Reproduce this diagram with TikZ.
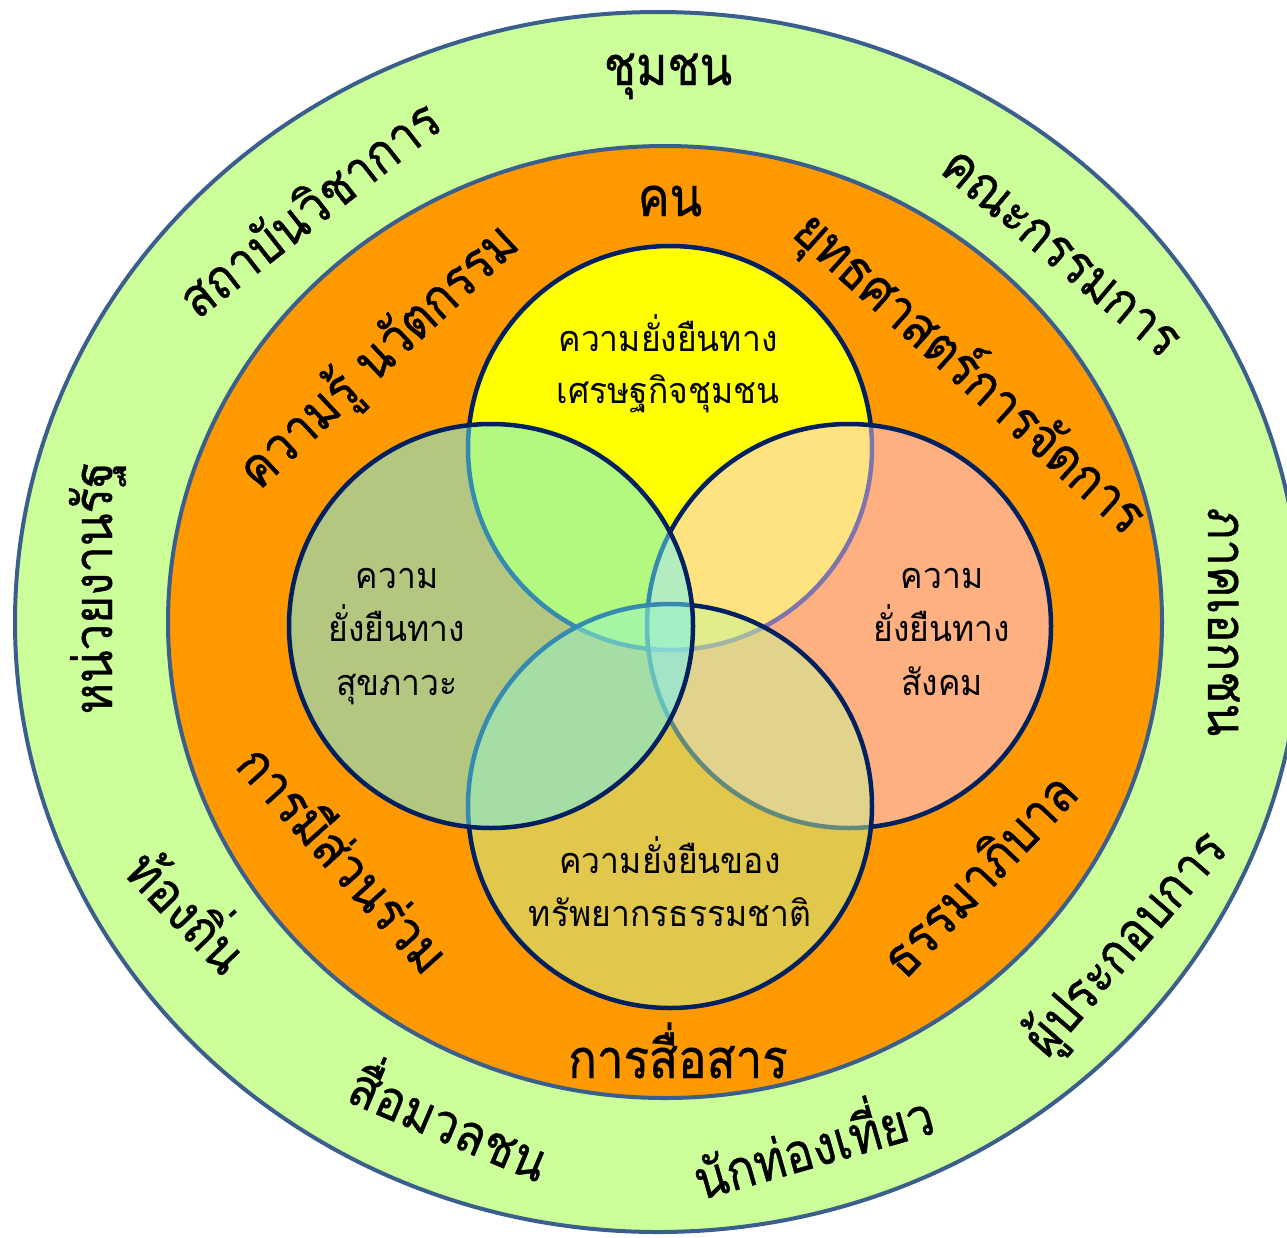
\documentclass[tikz,border=0pt]{standalone}
\usepackage{fontspec}
\newfontfamily\thaibig[Script=Thai, FakeStretch=0.88, FakeBold=0.8]{Loma}
\newfontfamily\thaismall[Script=Thai, FakeStretch=0.935]{Loma}
\usetikzlibrary{shapes.geometric}
\definecolor{ringgreen}{RGB}{204,255,153}
\definecolor{ringorange}{RGB}{255,153,0}
\definecolor{ringline}{RGB}{58,95,140}
\definecolor{vennline}{RGB}{0,32,96}
\definecolor{vennyellow}{RGB}{255,255,0}
\definecolor{vennleft}{RGB}{105,245,255}
\definecolor{vennright}{RGB}{255,200,255}
\definecolor{vennbottom}{RGB}{197,245,152}
\begin{document}
\begin{tikzpicture}[x=1pt,y=-1pt,
  ring/.style={ellipse, draw=ringline, line width=4pt, inner sep=0pt, outer sep=0pt},
  venn/.style={circle, draw=vennline, line width=4.5pt, minimum size=404pt, inner sep=0pt},
  bigtext/.style={font=\thaibig\fontsize{54}{60}\selectfont, text height=40pt, text depth=10pt, inner sep=0pt, anchor=center},
  smalltext/.style={font=\thaismall\fontsize{36}{44}\selectfont, inner sep=0pt, anchor=base}]
\useasboundingbox (0,0) rectangle (1287,1237);
\node[ring, fill=ringgreen, minimum width=1286pt, minimum height=1220pt] (outer) at (658,622) {};
\node[ring, fill=ringorange, minimum width=994pt, minimum height=952pt] (inner) at (665,622) {};
\node[venn, fill=vennyellow] (top) at (670,448) {};
\node[venn, fill=vennright, fill opacity=0.5] (right) at (849,626) {};
\node[venn, fill=vennbottom, fill opacity=0.5] (bottom) at (670,806) {};
\node[venn, fill=vennleft, fill opacity=0.5] (left) at (491,626) {};
% outer ring
\node[bigtext] (o1) at (668,70) {ชุมชน};
\node[bigtext, rotate=-40] (o2) at (1060,254) {คณะกรรมการ};
\node[bigtext, rotate=-90] (o3) at (1223,622) {ภาคเอกชน};
\node[bigtext, rotate=49] (o4) at (1127,945) {ผู้ประกอบการ};
\node[bigtext, rotate=16] (o5) at (815,1152) {นักท่องเที่ยว};
\node[bigtext, rotate=-23] (o6) at (447,1128) {สื่อมวลชน};
\node[bigtext, rotate=-46] (o7) at (183,915) {ท้องถิ่น};
\node[bigtext, rotate=90] (o8) at (97,588) {หน่วยงานรัฐ};
\node[bigtext, rotate=38] (o9) at (312,212) {สถาบันวิชาการ};
% orange ring
\node[bigtext] (r1) at (670,201) {คน};
\node[bigtext, rotate=-42] (r2) at (968,375) {ยุทธศาสตร์การจัดการ};
\node[bigtext, rotate=46.5] (r3) at (982,878) {ธรรมาภิบาล};
\node[bigtext] (r4) at (678,1063) {การสื่อสาร};
\node[bigtext, rotate=-48] (r5) at (340,862) {การมีส่วนร่วม};
\node[bigtext, rotate=43] (r6) at (380,358) {ความรู้ นวัตกรรม};
% venn texts
\node[smalltext] (a1) at (668,351) {ความยั่งยืนทาง};
\node[smalltext] (a2) at (668,403) {เศรษฐกิจชุมชน};
\node[smalltext] (b1) at (397,588) {ความ};
\node[smalltext] (b2) at (397,641) {ยั่งยืนทาง};
\node[smalltext] (b3) at (397,695) {สุขภาวะ};
\node[smalltext] (c1) at (942,588) {ความ};
\node[smalltext] (c2) at (942,641) {ยั่งยืนทาง};
\node[smalltext] (c3) at (942,695) {สังคม};
\node[smalltext] (d1) at (670,873) {ความยั่งยืนของ};
\node[smalltext] (d2) at (670,926) {ทรัพยากรธรรมชาติ};
\end{tikzpicture}
\end{document}
